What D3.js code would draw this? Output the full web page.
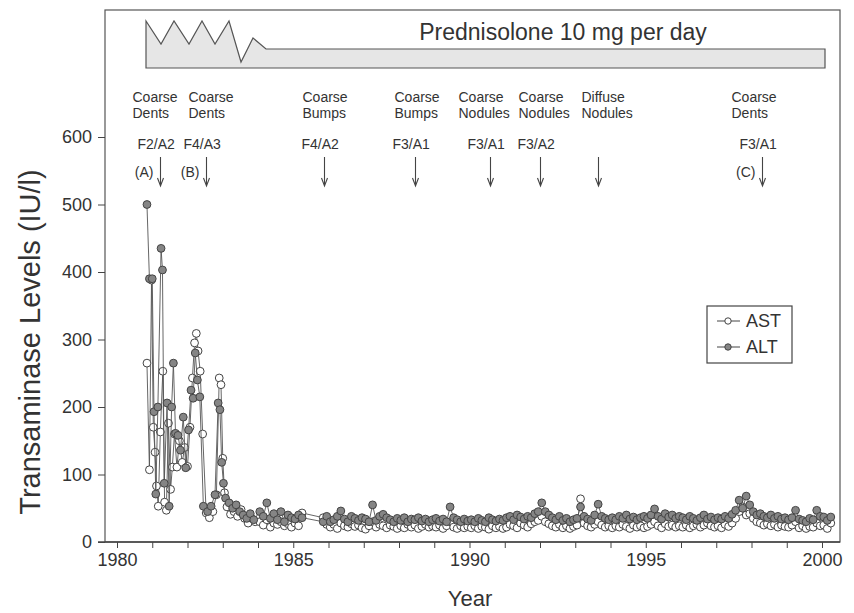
<!DOCTYPE html>
<html>
<head>
<meta charset="utf-8">
<script src="https://cdn.jsdelivr.net/npm/d3@7"></script>
<style>
  body { margin: 0; background: #fff; }
  svg { font-family: "Liberation Sans", Arial, Helvetica, sans-serif; }
  .axis text { fill: #333; }
  .axis path, .axis line { stroke: #444; }
</style>
</head>
<body>
<div id="chart"></div>
<script>
// --- data ---

// early treatment phase (1980.8 - 1984), [year, IU/l]
const earlyAST = [
  [1980.85, 265], [1980.92, 107], [1980.98, 388], [1981.03, 170], [1981.08, 133],
  [1981.12, 83], [1981.17, 53], [1981.23, 163], [1981.30, 253], [1981.35, 59],
  [1981.40, 47], [1981.46, 176], [1981.52, 78], [1981.57, 111], [1981.63, 160],
  [1981.70, 111], [1981.77, 150], [1981.85, 118], [1981.92, 140], [1982.00, 112],
  [1982.07, 170], [1982.14, 243], [1982.20, 295], [1982.25, 309], [1982.30, 283],
  [1982.36, 253], [1982.43, 160], [1982.53, 43], [1982.62, 36], [1982.72, 45],
  [1982.82, 70], [1982.90, 243], [1982.95, 233], [1983.00, 124], [1983.05, 73],
  [1983.12, 52], [1983.22, 41], [1983.32, 45], [1983.42, 38], [1983.52, 48],
  [1983.62, 35], [1983.72, 28], [1983.82, 35], [1983.92, 30]
];
const earlyALT = [
  [1980.85, 500], [1980.92, 390], [1981.00, 390], [1981.05, 193], [1981.10, 71],
  [1981.16, 200], [1981.25, 435], [1981.29, 403], [1981.34, 87], [1981.42, 206],
  [1981.48, 53], [1981.55, 200], [1981.60, 265], [1981.66, 161], [1981.73, 158],
  [1981.80, 136], [1981.88, 185], [1981.95, 110], [1982.03, 166], [1982.10, 225],
  [1982.16, 213], [1982.22, 280], [1982.28, 240], [1982.35, 215], [1982.45, 53],
  [1982.57, 45], [1982.67, 53], [1982.78, 70], [1982.87, 206], [1982.92, 196],
  [1982.97, 118], [1983.02, 87], [1983.08, 65], [1983.18, 58], [1983.28, 50],
  [1983.38, 55], [1983.48, 45], [1983.58, 40], [1983.68, 35], [1983.78, 42],
  [1983.88, 33]
];

// maintenance phase: ten readings per year (null = no visit)
const lateYears = [1984, 1985, 1986, 1987, 1988, 1989, 1990, 1991, 1992,
                   1993, 1994, 1995, 1996, 1997, 1998, 1999, 2000];
const lateAST = [
  [30, 25, 33, 22, 28, 26, 30, 24, 27, 22],
  [28, 24, 43, null, null, null, null, null, 36, 26],
  [22, 26, 20, 28, 24, 22, 27, 23, 25, 21],
  [19, 24, 30, 22, 26, 24, 21, 25, 23, 20],
  [24, 21, 26, 22, 25, 20, 23, 26, 22, 24],
  [22, 25, 20, 24, 30, 22, 20, 24, 21, 23],
  [21, 24, 20, 23, 22, 19, 24, 21, 23, 20],
  [22, 26, 24, 21, 28, 25, 22, 27, 30, 32],
  [38, 30, 27, 24, 22, 26, 21, 24, 20, 23],
  [25, 64, 28, 24, 22, 26, 30, 25, 22, 24],
  [21, 24, 22, 26, 23, 20, 25, 22, 24, 21],
  [23, 26, 30, 24, 21, 27, 23, 25, 22, 24],
  [22, 25, 21, 24, 26, 22, 25, 28, 24, 22],
  [24, 21, 26, 23, 28, 35, 45, 52, 40, 42],
  [35, 30, 28, 25, 27, 24, 26, 22, 25, 23],
  [22, 25, 30, 21, 24, 20, 23, 22, 28, 24],
  [25, 20, 28]
];
const lateALT = [
  [45, 38, 58, 35, 42, 33, 45, 30, 40, 36],
  [34, 40, 36, null, null, null, null, null, 30, 38],
  [30, 33, 38, 46, 34, 30, 38, 35, 32, 36],
  [34, 30, 55, 32, 38, 41, 36, 33, 30, 35],
  [32, 36, 30, 34, 33, 36, 31, 34, 30, 33],
  [35, 31, 34, 30, 52, 36, 33, 30, 34, 31],
  [33, 30, 35, 32, 30, 36, 33, 31, 34, 32],
  [36, 38, 33, 40, 37, 34, 38, 36, 42, 45],
  [58, 45, 40, 36, 33, 38, 32, 35, 30, 33],
  [35, 52, 38, 34, 32, 40, 56, 38, 35, 33],
  [36, 33, 38, 35, 40, 34, 37, 33, 36, 38],
  [35, 40, 49, 38, 34, 42, 37, 40, 35, 38],
  [36, 33, 38, 35, 32, 36, 40, 34, 37, 33],
  [36, 34, 38, 35, 41, 47, 62, 50, 68, 55],
  [45, 40, 42, 38, 36, 40, 35, 38, 34, 36],
  [33, 36, 47, 34, 32, 30, 35, 33, 47, 38],
  [37, 32, 37]
];

// biopsies: date, ultrasound finding, histology grade, letter
const biopsyYears = [1981.22, 1982.52, 1985.87, 1988.45, 1990.58, 1992.0, 1993.65, 1998.3];
const findingTop = ["Coarse", "Coarse", "Coarse", "Coarse", "Coarse", "Coarse", "Diffuse", "Coarse"];
const findingBottom = ["Dents", "Dents", "Bumps", "Bumps", "Nodules", "Nodules", "Nodules", "Dents"];
const grades = ["F2/A2", "F4/A3", "F4/A2", "F3/A1", "F3/A1", "F3/A2", "", "F3/A1"];
const letters = ["(A)", "(B)", "", "", "", "", "", "(C)"];

const yTicks = [0, 100, 200, 300, 400, 500, 600];

// --- build series ---
function expand(early, rows) {
  const out = early.map(d => ({ year: d[0], value: d[1] }));
  lateYears.forEach((yr, i) => {
    rows[i].forEach((v, j) => {
      if (v !== null) out.push({ year: yr + 0.05 + j * 0.1, value: v });
    });
  });
  return out;
}
const ast = expand(earlyAST, lateAST);
const alt = expand(earlyALT, lateALT);

// --- layout ---
const W = 854, H = 613;
const frame = { left: 105, top: 10, right: 840, bottom: 542 };

const svg = d3.select("#chart")
  .append("svg")
  .attr("width", W)
  .attr("height", H);

const x = d3.scaleLinear().domain([1980, 2000]).range([117, 822]);
const y = d3.scaleLinear().domain([0, 600]).range([542, 137]);

// frame
svg.append("rect")
  .attr("x", frame.left).attr("y", frame.top)
  .attr("width", frame.right - frame.left)
  .attr("height", frame.bottom - frame.top)
  .attr("fill", "none")
  .attr("stroke", "#555")
  .attr("stroke-width", 1.2);

// prednisolone banner (tapering zigzag then flat band)
const bannerPts = [
  [146, 68], [146, 21], [161, 44], [174, 21], [189, 44], [202, 21], [215, 44],
  [229, 21], [241, 62], [253, 38], [266, 49], [825, 49], [825, 68]
];
svg.append("path")
  .attr("d", d3.line()(bannerPts) + "Z")
  .attr("fill", "#e6e6e6")
  .attr("stroke", "#555")
  .attr("stroke-width", 1.2)
  .attr("stroke-linejoin", "miter");

svg.append("text")
  .attr("x", 563).attr("y", 40)
  .attr("text-anchor", "middle")
  .attr("font-size", 23)
  .attr("fill", "#333")
  .text("Prednisolone 10 mg per day");

// x axis: tick every year, label every 5
const xAxis = svg.append("g")
  .attr("class", "axis")
  .attr("transform", `translate(0,${frame.bottom})`)
  .call(d3.axisBottom(x)
    .tickValues(d3.range(1980, 2001))
    .tickSize(6)
    .tickPadding(5)
    .tickFormat(d => d % 5 === 0 ? d : ""));
xAxis.select(".domain").attr("d", `M${frame.left - 7},0H${frame.right}`).attr("stroke-width", 1.6);
xAxis.selectAll("text").attr("font-size", 18);

// y axis
const yAxis = svg.append("g")
  .attr("class", "axis")
  .attr("transform", `translate(${frame.left},0)`)
  .call(d3.axisLeft(y).tickValues(yTicks).tickSize(7).tickPadding(6));
yAxis.select(".domain").remove();
yAxis.selectAll("text").attr("font-size", 18);

// axis titles
svg.append("text")
  .attr("x", 470).attr("y", 606)
  .attr("text-anchor", "middle")
  .attr("font-size", 22)
  .attr("fill", "#333")
  .text("Year");

svg.append("text")
  .attr("transform", "rotate(-90)")
  .attr("x", -342).attr("y", 40)
  .attr("text-anchor", "middle")
  .attr("font-size", 29)
  .attr("fill", "#333")
  .text("Transaminase Levels (IU/l)");

// biopsy annotations: text columns sit left of each arrow
const findingShift = [-28, -18, -22, -21, -32, -22, -17, -31];
const notes = svg.append("g").attr("fill", "#333").attr("font-size", 14);
biopsyYears.forEach((yr, i) => {
  const cx = Math.round(x(yr)) + 0.5;
  notes.append("text").attr("x", cx + findingShift[i]).attr("y", 102).text(findingTop[i]);
  notes.append("text").attr("x", cx + findingShift[i]).attr("y", 118).text(findingBottom[i]);
  if (grades[i]) {
    notes.append("text").attr("x", cx - 23).attr("y", 149).text(grades[i]);
  }
  if (letters[i]) {
    notes.append("text").attr("x", cx - 7).attr("y", 177).attr("text-anchor", "end").text(letters[i]);
  }
  // arrow
  notes.append("path")
    .attr("d", `M${cx},157V186M${cx - 3},178L${cx},186L${cx + 3},178`)
    .attr("fill", "none")
    .attr("stroke", "#444")
    .attr("stroke-width", 1.1);
});

// series
const line = d3.line().x(d => x(d.year)).y(d => y(d.value));

function drawSeries(data, fill) {
  svg.append("path")
    .datum(data)
    .attr("d", line)
    .attr("fill", "none")
    .attr("stroke", "#555")
    .attr("stroke-width", 0.9);
  svg.append("g")
    .selectAll("circle")
    .data(data)
    .enter()
    .append("circle")
    .attr("cx", d => x(d.year))
    .attr("cy", d => y(d.value))
    .attr("r", 3.9)
    .attr("fill", fill)
    .attr("stroke", "#444")
    .attr("stroke-width", 1);
}
drawSeries(ast, "#fff");
drawSeries(alt, "#858585");

// legend
const legend = svg.append("g");
legend.append("rect")
  .attr("x", 707).attr("y", 306)
  .attr("width", 85).attr("height", 57)
  .attr("fill", "#fff")
  .attr("stroke", "#444")
  .attr("stroke-width", 1.2);
[["AST", "#fff", 321], ["ALT", "#858585", 347]].forEach(([name, fill, ly]) => {
  legend.append("line")
    .attr("x1", 717).attr("x2", 740)
    .attr("y1", ly).attr("y2", ly)
    .attr("stroke", "#444");
  legend.append("circle")
    .attr("cx", 728).attr("cy", ly).attr("r", 3.2)
    .attr("fill", fill).attr("stroke", "#444");
  legend.append("text")
    .attr("x", 746).attr("y", ly + 6)
    .attr("font-size", 18)
    .attr("fill", "#333")
    .text(name);
});
</script>
</body>
</html>
